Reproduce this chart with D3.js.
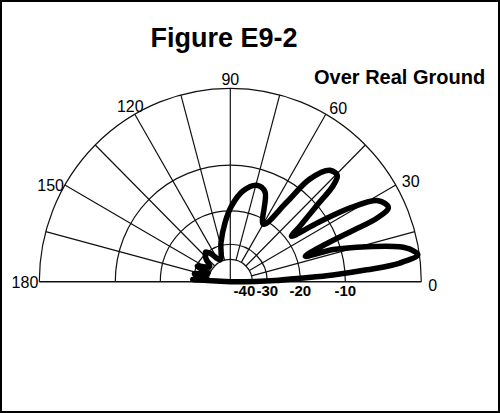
<!DOCTYPE html>
<html>
<head>
<meta charset="utf-8">
<script src="https://cdn.jsdelivr.net/npm/d3@7"></script>
<style>
body { margin: 0; background: #fff; }
text { font-family: Arial, "Liberation Sans", sans-serif; fill: #000; }
</style>
</head>
<body>
<div id="chart"></div>
<script>
// grid: spokes every 15 degrees of elevation, rings in dB
var spokeAngles = [0, 15, 30, 45, 60, 75, 90, 105, 120, 135, 150, 165, 180];
var angleLabels = [0, 30, 60, 90, 120, 150, 180];
var ringLevels = [-40, -30, -20, -10, 0];
var ringLabels = [-40, -30, -20, -10];

// elevation pattern: angle (deg) and relative gain (dB)
var patternAngle = [0, 0.6, 1.5, 2.8, 3.7, 4.9, 6.2, 8.1, 9.8, 11.5, 14.2, 17.1, 18.5,
  21.2, 22.4, 23.2, 24.9, 28.4, 31.2, 33.6, 36.2,
  38.3, 41, 42.7, 44.5, 47.8, 51.9, 54.3, 59.8,
  68.6, 74.5, 81.8, 89, 95.2, 103.6, 115,
  125, 130, 137, 144, 155, 159, 168, 172, 176.5, 180];
var patternDb = [-60, -38, -27.6, -20, -12.7, -7.1, -2.7, -0.2, -0.9, -2.4, -6.6, -11.6, -18,
  -13, -7.9, -4.1, -2.2, -3, -6.5, -12.1, -18.7,
  -15.8, -10.1, -6.7, -5.4, -5.6, -8.2, -14.1, -21.3,
  -14.4, -13.6, -15.4, -18.9, -23.5, -29.2, -38.7,
  -32.2, -29.6, -32.5, -37.7, -30.4, -38.8, -30.2, -38.7, -29.8, -60];

var width = 500;
var height = 413;
var cx = 230.3, cy = 281.7; // centre of the half circle
var ky = 1.0125; // the scan is a touch taller than wide

var svg = d3.select("#chart")
  .append("svg")
  .attr("width", width)
  .attr("height", height);

// frame round the whole picture
svg.append("rect")
  .attr("x", 1).attr("y", 1)
  .attr("width", width - 2).attr("height", height - 2)
  .attr("fill", "none")
  .attr("stroke", "#000")
  .attr("stroke-width", 2);

// dB -> radius (log-like ARRL scale, rings measured on the figure)
var r = d3.scaleLinear()
  .domain([-60, -40, -30, -20, -10, 0])
  .range([0, 22, 37, 70, 115, 191])
  .clamp(true);
// elevation -> d3 radial angle (0 = east, 180 = west)
var ang = d3.scaleLinear().domain([0, 180]).range([Math.PI / 2, -Math.PI / 2]);

var R = r(0);

var g = svg.append("g")
  .attr("transform", "translate(" + cx + "," + cy + ") scale(1," + ky + ")");

// rings
g.selectAll(".ring")
  .data(ringLevels)
  .enter()
  .append("path")
  .attr("class", "ring")
  .attr("d", function(d) {
    var p = d3.path();
    p.moveTo(-r(d), 0);
    p.arc(0, 0, r(d), Math.PI, 2 * Math.PI);
    return p.toString();
  })
  .attr("fill", "none")
  .attr("stroke", "#111")
  .attr("stroke-width", 1.2);

// spokes, all start on the -40 ring except the vertical one
g.selectAll(".spoke")
  .data(spokeAngles.filter(function(d) { return d > 0 && d < 180; }))
  .enter()
  .append("line")
  .attr("class", "spoke")
  .attr("x1", function(d) { var r0 = d == 90 ? 0 : r(-40); return r0 * Math.sin(ang(d)); })
  .attr("y1", function(d) { var r0 = d == 90 ? 0 : r(-40); return -r0 * Math.cos(ang(d)); })
  .attr("x2", function(d) { return R * Math.sin(ang(d)); })
  .attr("y2", function(d) { return -R * Math.cos(ang(d)); })
  .attr("stroke", "#111")
  .attr("stroke-width", 1.2);

// base line 0..180
g.append("line")
  .attr("x1", -R).attr("y1", 0)
  .attr("x2", R).attr("y2", 0)
  .attr("stroke", "#111")
  .attr("stroke-width", 1.4);

// the pattern itself
var pattern = patternAngle.map(function(d, i) {
  return { angle: d, db: patternDb[i] };
});

var radial = d3.lineRadial()
  .angle(function(d) { return ang(d.angle); })
  .radius(function(d) { return r(d.db); })
  .curve(d3.curveCatmullRom.alpha(0.5));

g.append("path")
  .datum(pattern)
  .attr("d", radial)
  .attr("fill", "none")
  .attr("stroke", "#000")
  .attr("stroke-width", 5.5)
  .attr("stroke-linejoin", "round")
  .attr("stroke-linecap", "round");

// angle labels round the outside
svg.selectAll(".alabel")
  .data(angleLabels)
  .enter()
  .append("text")
  .attr("class", "alabel")
  .attr("font-size", 16)
  .attr("text-anchor", function(d) {
    if (d < 90) return "start";
    if (d <= 120) return "middle";
    return "end";
  })
  .attr("x", function(d) {
    var gap = d < 90 ? 7 : (d <= 120 ? 9 : 1);
    return cx + (R + gap) * Math.sin(ang(d));
  })
  .attr("y", function(d) {
    var gap = d < 90 ? 7 : (d <= 120 ? 9 : 1);
    // the 0 label sits a little below the base line
    return cy - (R + gap) * Math.cos(ang(d)) * ky + (d == 0 ? 9 : 6);
  })
  .text(function(d) { return d; });

// dB labels under the base line
svg.selectAll(".rlabel")
  .data(ringLabels)
  .enter()
  .append("text")
  .attr("class", "rlabel")
  .attr("font-size", 15)
  .attr("font-weight", "bold")
  .attr("text-anchor", function(d, i) { return i == 0 ? "end" : "middle"; })
  .attr("x", function(d, i) { return cx + r(d) + (i == 0 ? 3 : 0); })
  .attr("y", cy + 14)
  .text(function(d) { return d; });

// titles
svg.append("text")
  .attr("x", 224).attr("y", 47)
  .attr("text-anchor", "middle")
  .attr("font-size", 27)
  .attr("font-weight", "bold")
  .text("Figure E9-2");

svg.append("text")
  .attr("x", 314).attr("y", 84)
  .attr("font-size", 20)
  .attr("font-weight", "bold")
  .text("Over Real Ground");
</script>
</body>
</html>
